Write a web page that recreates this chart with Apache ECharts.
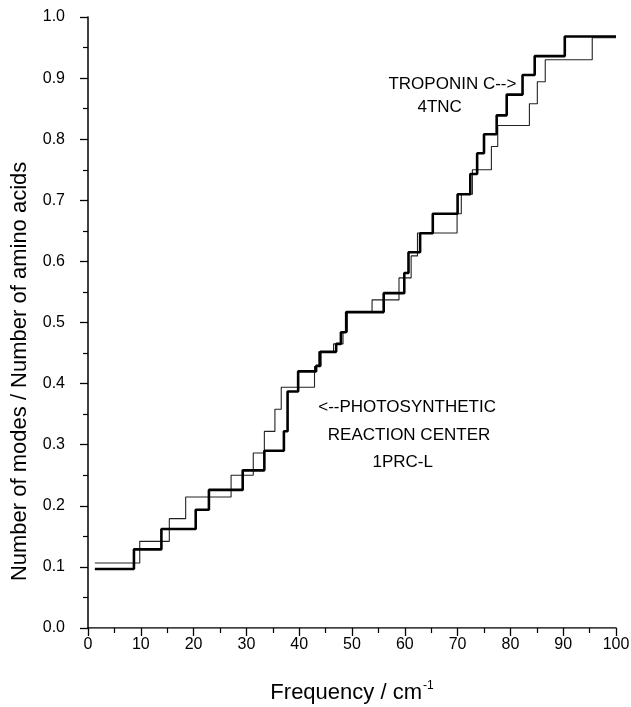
<!DOCTYPE html>
<html>
<head>
<meta charset="utf-8">
<script src="https://cdn.jsdelivr.net/npm/echarts@6/dist/echarts.min.js"></script>
<style>
html,body{margin:0;padding:0;background:#fff;}
#c{width:631px;height:707px;}
</style>
</head>
<body>
<div id="c"></div>
<script>
// Step start positions (cm^-1) and the value holding from that position onward
const thickX = [1.3, 8.7, 13.9, 20.4, 22.9, 29.3, 33.4, 37.1, 37.8, 39.8, 43.2, 44.0, 47.0, 47.9, 48.9, 56.0, 59.9, 60.7, 62.9, 65.3, 70.0, 72.4, 73.7, 75.0, 77.4, 79.3, 82.3, 84.6, 90.3];
const thickY = [0.0966, 0.1287, 0.162, 0.1936, 0.226, 0.258, 0.290, 0.322, 0.387, 0.420, 0.429, 0.452, 0.465, 0.484, 0.517, 0.548, 0.581, 0.615, 0.646, 0.678, 0.710, 0.743, 0.777, 0.808, 0.839, 0.873, 0.905, 0.936, 0.968];
const thickEnd = 100;

const thinX = [1.3, 9.8, 15.4, 18.5, 27.1, 31.3, 33.4, 35.4, 36.6, 42.9, 43.7, 46.5, 48.3, 49.1, 53.8, 58.9, 61.2, 62.4, 69.9, 70.7, 72.8, 76.4, 77.6, 83.6, 85.1, 86.6, 95.5];
const thinY = [0.1064, 0.1418, 0.179, 0.2144, 0.250, 0.2864, 0.3218, 0.358, 0.394, 0.428, 0.452, 0.465, 0.485, 0.518, 0.537, 0.573, 0.609, 0.6465, 0.678, 0.710, 0.750, 0.788, 0.8225, 0.858, 0.894, 0.930, 0.966];
const thinEnd = 100;

const xTicks = [0, 10, 20, 30, 40, 50, 60, 70, 80, 90, 100];
const yTicks = [0.0, 0.1, 0.2, 0.3, 0.4, 0.5, 0.6, 0.7, 0.8, 0.9, 1.0];

function stepData(xs, ys, end) {
  const d = xs.map((x, i) => [x, ys[i]]);
  d.push([end, ys[ys.length - 1]]);
  return d;
}

const FONT = '"Liberation Sans", Arial, sans-serif';
const chart = echarts.init(document.getElementById('c'), null, {renderer: 'canvas'});

const option = {
  animation: false,
  backgroundColor: '#fff',
  grid: {left: 88, right: 15, top: 17, bottom: 79, containLabel: false, outerBoundsMode: 'none'},
  xAxis: [{
    type: 'value', min: xTicks[0], max: xTicks[xTicks.length - 1], interval: 10,
    axisLine: {show: true, onZero: false, lineStyle: {color: '#000', width: 1.5}},
    axisTick: {show: true, length: 8, lineStyle: {color: '#000', width: 1.3}},
    minorTick: {show: true, splitNumber: 2, length: 5, lineStyle: {color: '#000', width: 1.2}},
    axisLabel: {color: '#000', fontFamily: FONT, fontSize: 16, margin: 9},
    splitLine: {show: false},
    name: '{a|Frequency / cm}{s|-1}',
    nameLocation: 'middle', nameGap: 52,
    nameTextStyle: {
      rich: {
        a: {fontFamily: FONT, fontSize: 22, color: '#000'},
        s: {fontFamily: FONT, fontSize: 12, color: '#000', verticalAlign: 'top', padding: [0, 0, 14, 1]}
      }
    }
  }, {
    type: 'value', position: 'top', min: 0, max: 100,
    axisLine: {show: true, lineStyle: {color: '#777', width: 1}},
    axisTick: {show: false}, axisLabel: {show: false}, splitLine: {show: false}
  }],
  yAxis: {
    type: 'value', min: yTicks[0], max: yTicks[yTicks.length - 1], interval: 0.1,
    axisLine: {show: true, onZero: false, lineStyle: {color: '#000', width: 1.5}},
    axisTick: {show: true, length: 8, lineStyle: {color: '#000', width: 1.3}},
    minorTick: {show: true, splitNumber: 2, length: 5, lineStyle: {color: '#000', width: 1.2}},
    axisLabel: {color: '#000', fontFamily: FONT, fontSize: 16, margin: 23,
      formatter: v => v.toFixed(1)},
    splitLine: {show: false}
  },
  series: [{
    name: 'thin', type: 'line', step: 'end', symbol: 'none',
    data: stepData(thinX, thinY, thinEnd),
    lineStyle: {color: '#222', width: 1.1}, z: 2
  }, {
    name: 'thick', type: 'line', step: 'end', symbol: 'none',
    data: stepData(thickX, thickY, thickEnd),
    lineStyle: {color: '#000', width: 2.6}, z: 3
  }]
};
chart.setOption(option);

// Annotations anchored in data coordinates
const notes = [
  {text: 'TROPONIN C-->', at: [56.9, 0.890], align: 'left'},
  {text: '4TNC', at: [66.6, 0.852], align: 'center'},
  {text: '<--PHOTOSYNTHETIC', at: [43.6, 0.362], align: 'left'},
  {text: 'REACTION CENTER', at: [60.8, 0.316], align: 'center'},
  {text: '1PRC-L', at: [59.6, 0.271], align: 'center'}
];
const graphics = notes.map(n => {
  const p = chart.convertToPixel({xAxisIndex: 0, yAxisIndex: 0}, n.at);
  return {type: 'text', x: p[0], y: p[1],
    style: {text: n.text, fontFamily: FONT, fontSize: 17, fill: '#000',
      align: n.align, verticalAlign: 'middle'}};
});
// Y-axis title, placed as in the reference (slightly below the axis middle)
const yt = chart.convertToPixel({xAxisIndex: 0, yAxisIndex: 0}, [0, 0.42]);
graphics.push({type: 'text', x: 20, y: yt[1], rotation: Math.PI / 2,
  style: {text: 'Number of modes / Number of amino acids', fontFamily: FONT,
    fontSize: 22, fill: '#000', align: 'center', verticalAlign: 'middle'}});
chart.setOption({graphic: graphics});
</script>
</body>
</html>
